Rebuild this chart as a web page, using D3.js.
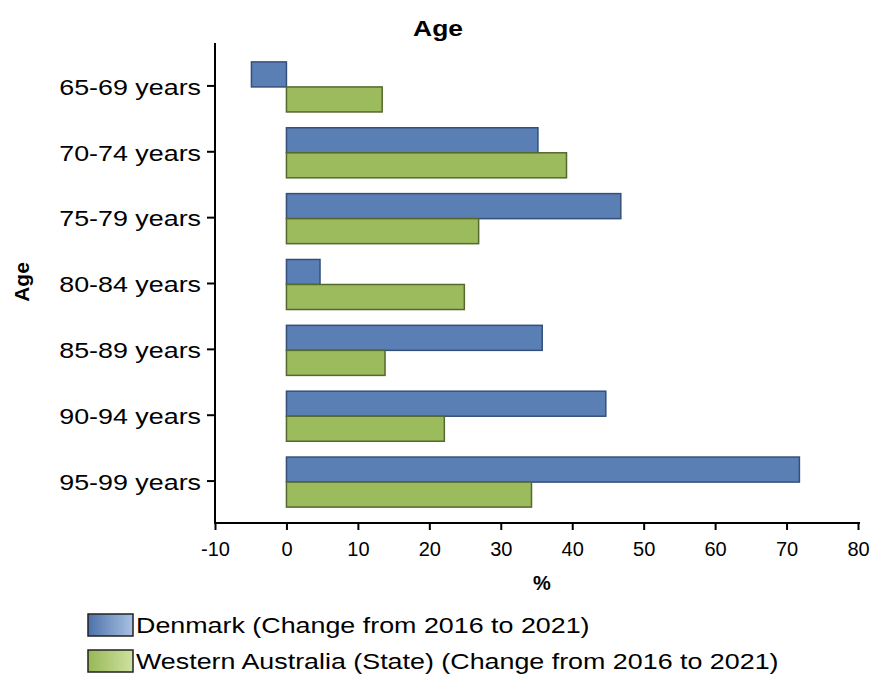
<!DOCTYPE html>
<html>
<head>
<meta charset="utf-8">
<script src="https://cdn.jsdelivr.net/npm/d3@7"></script>
<style>
  body { margin: 0; background: #fff; }
  text { font-family: "Liberation Sans", Arial, sans-serif; fill: #000; }
</style>
</head>
<body>
<div id="chart"></div>
<script>
// chart data
var ageGroups = ["65-69 years", "70-74 years", "75-79 years", "80-84 years",
                 "85-89 years", "90-94 years", "95-99 years"];
var denmark = [-4.9, 35.2, 46.8, 4.7, 35.8, 44.7, 71.8];
var westernAustralia = [13.4, 39.2, 26.9, 24.9, 13.8, 22.1, 34.3];
var seriesNames = ["Denmark (Change from 2016 to 2021)",
                   "Western Australia (State) (Change from 2016 to 2021)"];
var xTicks = [-10, 0, 10, 20, 30, 40, 50, 60, 70, 80];

var width = 872, height = 678;

var svg = d3.select("#chart").append("svg")
  .attr("width", width)
  .attr("height", height);

// the picture looks a bit stretched sideways, so widen text to match
function stretch(sel, factor) {
  sel.each(function() {
    var len = this.getComputedTextLength();
    d3.select(this)
      .attr("textLength", len * factor)
      .attr("lengthAdjust", "spacingAndGlyphs");
  });
}

var tableData = ageGroups.map(function(g, i) {
  return { group: g, values: [
    { key: "dk", value: denmark[i] },
    { key: "wa", value: westernAustralia[i] }
  ]};
});

// scales
var xScale = d3.scaleLinear().domain([-10, 80]).range([215, 858]);
var yScale = d3.scaleBand().domain(ageGroups)
  .range([54, 515]).paddingInner(0.24).paddingOuter(0.12);
var y1Scale = d3.scaleBand().domain(["dk", "wa"]).range([0, yScale.bandwidth()]);

var fills = { dk: "#5a7fb5", wa: "#9bbb5d" };
var strokes = { dk: "#34507a", wa: "#55682e" };

// gradients for legend swatches
var defs = svg.append("defs");
[["gradDk", "#4d72aa", "#a9c1e3"], ["gradWa", "#97b856", "#cfe1a0"]].forEach(function(g) {
  var lg = defs.append("linearGradient").attr("id", g[0])
    .attr("x1", "0%").attr("x2", "100%").attr("y1", "0%").attr("y2", "0%");
  lg.append("stop").attr("offset", "0%").attr("stop-color", g[1]);
  lg.append("stop").attr("offset", "100%").attr("stop-color", g[2]);
});

// bars
var groups = svg.selectAll(".ageGroup")
  .data(tableData)
  .enter().append("g")
  .attr("class", "ageGroup")
  .attr("transform", function(d) { return "translate(0," + yScale(d.group) + ")"; });

groups.selectAll("rect")
  .data(function(d) { return d.values; })
  .enter().append("rect")
  .attr("x", function(d) { return xScale(Math.min(0, d.value)); })
  .attr("y", function(d) { return y1Scale(d.key); })
  .attr("width", function(d) { return Math.abs(xScale(d.value) - xScale(0)); })
  .attr("height", y1Scale.bandwidth())
  .style("fill", function(d) { return fills[d.key]; })
  .style("stroke", function(d) { return strokes[d.key]; })
  .style("stroke-width", 1.5);

// x axis (plain hyphen for negatives, like the original)
var xAxis = d3.axisBottom(xScale).tickValues(xTicks)
  .tickFormat(function(d) { return String(d); })
  .tickSize(7).tickPadding(12);
var xAxisDisplay = svg.append("g")
  .attr("transform", "translate(0,523)")
  .call(xAxis);
xAxisDisplay.select(".domain").remove();
xAxisDisplay.selectAll("line").attr("stroke", "#000").attr("stroke-width", 2);
xAxisDisplay.selectAll("text")
  .style("font-size", "20px")
  .style("font-family", "Liberation Sans, Arial, sans-serif");
xAxisDisplay.append("line")
  .attr("x1", 215).attr("x2", 860)
  .attr("y1", 0).attr("y2", 0)
  .attr("stroke", "#000").attr("stroke-width", 2);

// y axis
var yAxis = d3.axisLeft(yScale).tickSize(8).tickPadding(6);
var yAxisDisplay = svg.append("g")
  .attr("transform", "translate(215,-1)")
  .call(yAxis);
yAxisDisplay.select(".domain").remove();
yAxisDisplay.selectAll("line").attr("stroke", "#000").attr("stroke-width", 2);
yAxisDisplay.selectAll("text")
  .attr("dy", "0.4em")
  .style("font-size", "22px")
  .style("font-family", "Liberation Sans, Arial, sans-serif")
  .call(stretch, 1.22);
svg.append("line")
  .attr("x1", 215).attr("x2", 215)
  .attr("y1", 43).attr("y2", 524)
  .attr("stroke", "#000").attr("stroke-width", 2);

// titles
svg.append("text")
  .attr("x", 438).attr("y", 36)
  .attr("text-anchor", "middle")
  .style("font-size", "22px").style("font-weight", "bold")
  .text("Age")
  .call(stretch, 1.2);

svg.append("text")
  .attr("transform", "translate(29,282) rotate(-90)")
  .attr("text-anchor", "middle")
  .style("font-size", "21px").style("font-weight", "bold")
  .text("Age");

svg.append("text")
  .attr("x", 542).attr("y", 590)
  .attr("text-anchor", "middle")
  .style("font-size", "20px").style("font-weight", "bold")
  .text("%");

// legend
var legend = svg.selectAll(".legendItem")
  .data(seriesNames)
  .enter().append("g")
  .attr("class", "legendItem")
  .attr("transform", function(d, i) { return "translate(88," + (614 + i * 36) + ")"; });

legend.append("rect")
  .attr("width", 45).attr("height", 22)
  .style("fill", function(d, i) { return i == 0 ? "url(#gradDk)" : "url(#gradWa)"; })
  .style("stroke", "#222").style("stroke-width", 1.5);

legend.append("text")
  .attr("x", 48).attr("y", 19)
  .style("font-size", "22px")
  .text(function(d) { return d; })
  .call(stretch, 1.22);
</script>
</body>
</html>
